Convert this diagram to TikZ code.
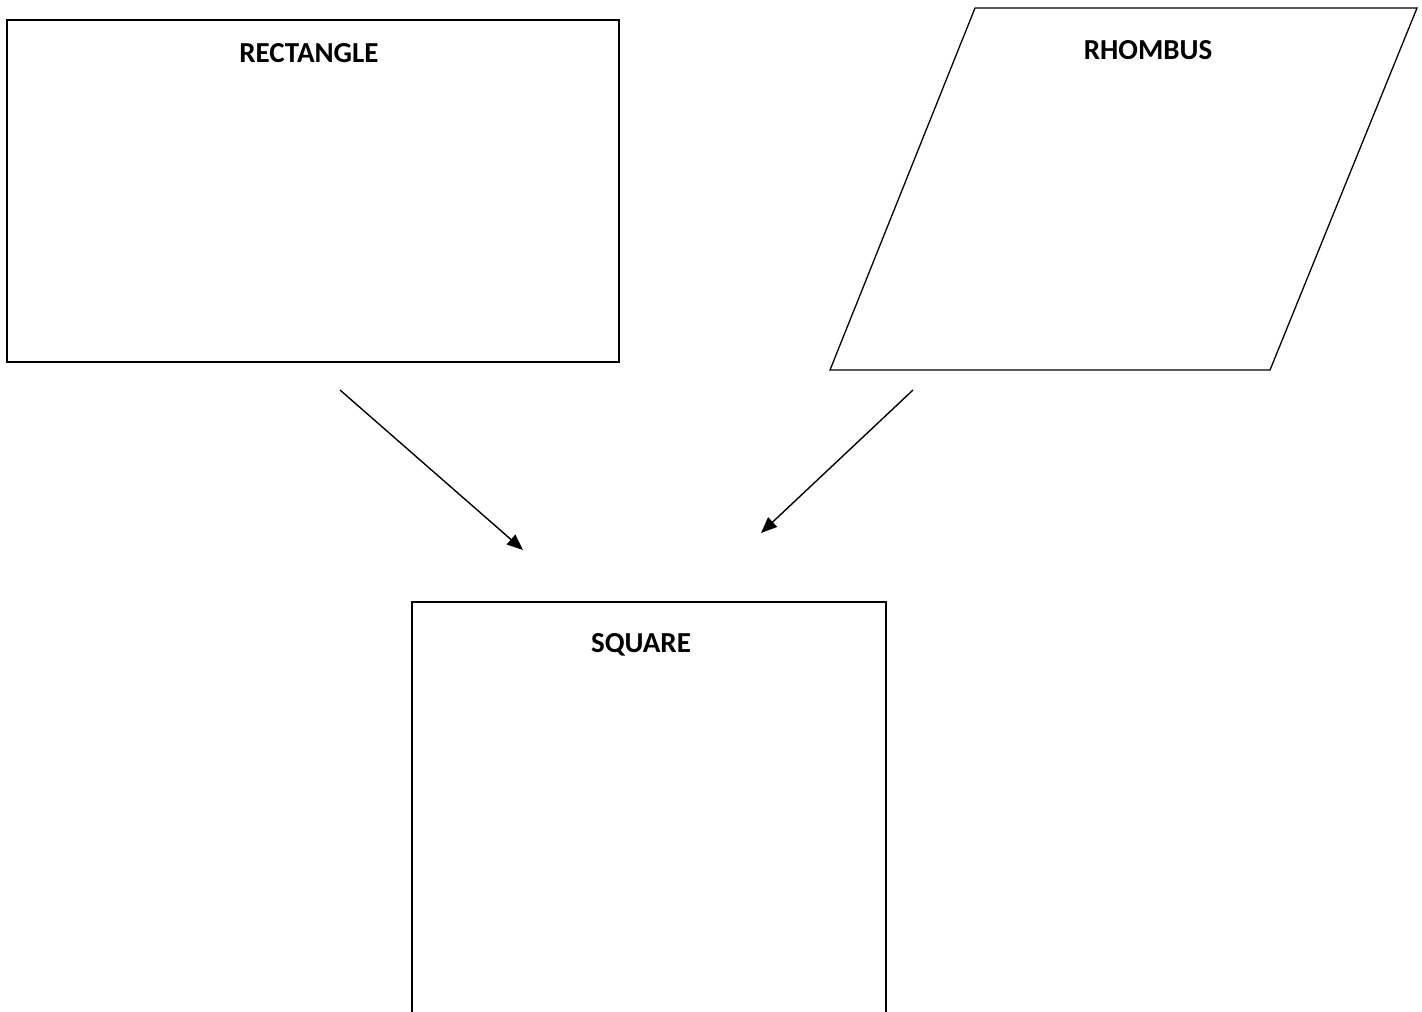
\documentclass[tikz,border=0pt]{standalone}
\usepackage{fontspec}
\setmainfont{Carlito}
\usetikzlibrary{arrows.meta}
\begin{document}
\begin{tikzpicture}[x=0.5pt,y=-0.5pt,
  shapeline/.style={draw=black,line width=0.65pt},
  lbl/.style={font=\fontsize{14.5}{17}\selectfont\bfseries,inner sep=0pt},
  conn/.style={draw=black,line width=0.7pt,-{Triangle[length=8pt,width=6.5pt]}}]
\useasboundingbox (0,0) rectangle (1422,1011);
\clip (0,0) rectangle (1422,1011);
% rectangle
\node[shapeline,rectangle,minimum width=306pt,minimum height=171pt,inner sep=0pt] (rect) at (313,191) {};
\node[lbl] (rectlbl) at (309,53) {RECTANGLE};
% rhombus
\coordinate (rh1) at (975,8);
\coordinate (rh2) at (1417,8);
\coordinate (rh3) at (1270,370);
\coordinate (rh4) at (830,370);
\draw[shapeline] (rh1) -- (rh2) -- (rh3) -- (rh4) -- cycle;
\node[lbl] (rhlbl) at (1148,50) {RHOMBUS};
% square (bottom cut off)
\node[shapeline,rectangle,minimum width=237pt,minimum height=215pt,inner sep=0pt] (sq) at (649,817) {};
\node[lbl] (sqlbl) at (641,645) {SQUARE};
% arrows
\coordinate (a1s) at (340,390);
\coordinate (a1e) at (523,550);
\coordinate (a2s) at (913,390);
\coordinate (a2e) at (761,533);
\draw[conn] (a1s) -- (a1e);
\draw[conn] (a2s) -- (a2e);
\end{tikzpicture}
\end{document}
